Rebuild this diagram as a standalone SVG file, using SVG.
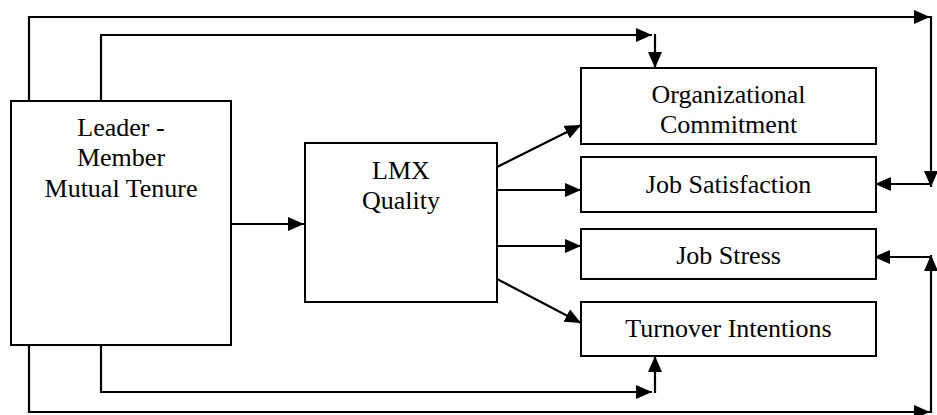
<svg xmlns="http://www.w3.org/2000/svg" width="937" height="415" viewBox="0 0 937 415">
<style>
.box{fill:#fff;stroke:#000;stroke-width:2}
.lbl{font-family:"Liberation Serif","Times New Roman",serif;font-size:26px;fill:#000;text-anchor:middle}
.con{fill:none;stroke:#000;stroke-width:2.2}
.arr{marker-end:url(#ah)}
</style>
<defs>
<marker id="ah" viewBox="0 0 16 14" markerWidth="16" markerHeight="14" refX="16" refY="7" orient="auto" markerUnits="userSpaceOnUse">
<path d="M0,0 L16,7 L0,14 Z" fill="#000"/>
</marker>
</defs>
<rect width="937" height="415" fill="#fff"/>
<g id="connectors">
<path class="con arr" d="M231,224 H304"/>
<path class="con arr" d="M497,167 L581,125"/>
<path class="con arr" d="M497,190 H581"/>
<path class="con arr" d="M497,246 H581"/>
<path class="con arr" d="M497,279 L581,323"/>
<path class="con arr" d="M29,101 V17 H930"/>
<path class="con arr" d="M931,16 V187"/>
<path class="con arr" d="M932,184 H875"/>
<path class="con arr" d="M101,101 V35 H652"/>
<path class="con arr" d="M655,34 V68"/>
<path class="con arr" d="M101,345 V392 H652"/>
<path class="con arr" d="M655,393 V356"/>
<path class="con arr" d="M29,345 V412 H930"/>
<path class="con arr" d="M931,413 V255"/>
<path class="con arr" d="M932,257 H874"/>
</g>
<g id="leader">
<rect class="box" x="11" y="101" width="220" height="244"/>
<text class="lbl" x="121" y="136">Leader -</text>
<text class="lbl" x="121" y="166">Member</text>
<text class="lbl" x="121" y="197">Mutual Tenure</text>
</g>
<g id="lmx">
<rect class="box" x="305" y="143" width="192" height="159"/>
<text class="lbl" x="401" y="179">LMX</text>
<text class="lbl" x="401" y="209">Quality</text>
</g>
<g id="commitment">
<rect class="box" x="581" y="68" width="295" height="76"/>
<text class="lbl" x="728.5" y="103">Organizational</text>
<text class="lbl" x="728.5" y="133">Commitment</text>
</g>
<g id="satisfaction">
<rect class="box" x="581" y="157" width="295" height="55"/>
<text class="lbl" x="728.5" y="193">Job Satisfaction</text>
</g>
<g id="stress">
<rect class="box" x="581" y="229" width="295" height="50"/>
<text class="lbl" x="728.5" y="264">Job Stress</text>
</g>
<g id="turnover">
<rect class="box" x="581" y="302" width="295" height="54"/>
<text class="lbl" x="728.5" y="337">Turnover Intentions</text>
</g>
</svg>
